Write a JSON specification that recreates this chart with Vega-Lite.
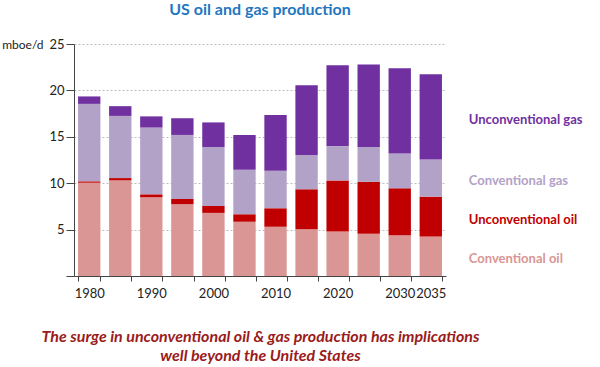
{
  "$schema": "https://vega.github.io/schema/vega-lite/v6.json",
  "autosize": {"type": "none"},
  "padding": {"left": 74, "top": 44, "right": 154, "bottom": 91},
  "width": 372,
  "height": 232,
  "config": {"view": {"stroke": null}, "font": "Lato"},
  "title": {"text": "US oil and gas production", "fontSize": 16, "fontWeight": "bold", "color": "#1f77c0", "anchor": "middle", "offset": 20, "font": "Lato"},
  "data": {"values": [
    {"year": "1980", "fuel": "oil", "type": "Conventional", "series": "Conventional oil", "value": 10.05},
    {"year": "1980", "fuel": "oil", "type": "Unconventional", "series": "Unconventional oil", "value": 0.15},
    {"year": "1980", "fuel": "gas", "type": "Conventional", "series": "Conventional gas", "value": 8.35},
    {"year": "1980", "fuel": "gas", "type": "Unconventional", "series": "Unconventional gas", "value": 0.8},
    {"year": "1985", "fuel": "oil", "type": "Conventional", "series": "Conventional oil", "value": 10.3},
    {"year": "1985", "fuel": "oil", "type": "Unconventional", "series": "Unconventional oil", "value": 0.25},
    {"year": "1985", "fuel": "gas", "type": "Conventional", "series": "Conventional gas", "value": 6.7},
    {"year": "1985", "fuel": "gas", "type": "Unconventional", "series": "Unconventional gas", "value": 1.05},
    {"year": "1990", "fuel": "oil", "type": "Conventional", "series": "Conventional oil", "value": 8.5},
    {"year": "1990", "fuel": "oil", "type": "Unconventional", "series": "Unconventional oil", "value": 0.3},
    {"year": "1990", "fuel": "gas", "type": "Conventional", "series": "Conventional gas", "value": 7.2},
    {"year": "1990", "fuel": "gas", "type": "Unconventional", "series": "Unconventional gas", "value": 1.2},
    {"year": "1995", "fuel": "oil", "type": "Conventional", "series": "Conventional oil", "value": 7.75},
    {"year": "1995", "fuel": "oil", "type": "Unconventional", "series": "Unconventional oil", "value": 0.55},
    {"year": "1995", "fuel": "gas", "type": "Conventional", "series": "Conventional gas", "value": 6.9},
    {"year": "1995", "fuel": "gas", "type": "Unconventional", "series": "Unconventional gas", "value": 1.8},
    {"year": "2000", "fuel": "oil", "type": "Conventional", "series": "Conventional oil", "value": 6.8},
    {"year": "2000", "fuel": "oil", "type": "Unconventional", "series": "Unconventional oil", "value": 0.75},
    {"year": "2000", "fuel": "gas", "type": "Conventional", "series": "Conventional gas", "value": 6.35},
    {"year": "2000", "fuel": "gas", "type": "Unconventional", "series": "Unconventional gas", "value": 2.65},
    {"year": "2005", "fuel": "oil", "type": "Conventional", "series": "Conventional oil", "value": 5.85},
    {"year": "2005", "fuel": "oil", "type": "Unconventional", "series": "Unconventional oil", "value": 0.8},
    {"year": "2005", "fuel": "gas", "type": "Conventional", "series": "Conventional gas", "value": 4.8},
    {"year": "2005", "fuel": "gas", "type": "Unconventional", "series": "Unconventional gas", "value": 3.75},
    {"year": "2010", "fuel": "oil", "type": "Conventional", "series": "Conventional oil", "value": 5.3},
    {"year": "2010", "fuel": "oil", "type": "Unconventional", "series": "Unconventional oil", "value": 2.0},
    {"year": "2010", "fuel": "gas", "type": "Conventional", "series": "Conventional gas", "value": 4.05},
    {"year": "2010", "fuel": "gas", "type": "Unconventional", "series": "Unconventional gas", "value": 6.0},
    {"year": "2015", "fuel": "oil", "type": "Conventional", "series": "Conventional oil", "value": 5.05},
    {"year": "2015", "fuel": "oil", "type": "Unconventional", "series": "Unconventional oil", "value": 4.3},
    {"year": "2015", "fuel": "gas", "type": "Conventional", "series": "Conventional gas", "value": 3.7},
    {"year": "2015", "fuel": "gas", "type": "Unconventional", "series": "Unconventional gas", "value": 7.5},
    {"year": "2020", "fuel": "oil", "type": "Conventional", "series": "Conventional oil", "value": 4.8},
    {"year": "2020", "fuel": "oil", "type": "Unconventional", "series": "Unconventional oil", "value": 5.5},
    {"year": "2020", "fuel": "gas", "type": "Conventional", "series": "Conventional gas", "value": 3.7},
    {"year": "2020", "fuel": "gas", "type": "Unconventional", "series": "Unconventional gas", "value": 8.7},
    {"year": "2025", "fuel": "oil", "type": "Conventional", "series": "Conventional oil", "value": 4.55},
    {"year": "2025", "fuel": "oil", "type": "Unconventional", "series": "Unconventional oil", "value": 5.6},
    {"year": "2025", "fuel": "gas", "type": "Conventional", "series": "Conventional gas", "value": 3.75},
    {"year": "2025", "fuel": "gas", "type": "Unconventional", "series": "Unconventional gas", "value": 8.9},
    {"year": "2030", "fuel": "oil", "type": "Conventional", "series": "Conventional oil", "value": 4.4},
    {"year": "2030", "fuel": "oil", "type": "Unconventional", "series": "Unconventional oil", "value": 5.05},
    {"year": "2030", "fuel": "gas", "type": "Conventional", "series": "Conventional gas", "value": 3.75},
    {"year": "2030", "fuel": "gas", "type": "Unconventional", "series": "Unconventional gas", "value": 9.2},
    {"year": "2035", "fuel": "oil", "type": "Conventional", "series": "Conventional oil", "value": 4.25},
    {"year": "2035", "fuel": "oil", "type": "Unconventional", "series": "Unconventional oil", "value": 4.3},
    {"year": "2035", "fuel": "gas", "type": "Conventional", "series": "Conventional gas", "value": 4.0},
    {"year": "2035", "fuel": "gas", "type": "Unconventional", "series": "Unconventional gas", "value": 9.2}
  ]},
  "transform": [
    {"stack": "value", "groupby": ["year"], "sort": [{"field": "fuel", "order": "descending"}, {"field": "type", "order": "ascending"}], "as": ["v0", "v1"]}
  ],
  "encoding": {
    "x": {
      "field": "year", "type": "nominal", "sort": null,
      "scale": {"paddingInner": 0.28, "paddingOuter": 0.13},
      "axis": {
        "labelAngle": 0,
        "tickBand": "extent",
        "tickSize": 5,
        "tickColor": "#444",
        "domainColor": "#444",
        "labelFontSize": 13,
        "labelColor": "#222",
        "labelPadding": 6,
        "labelExpr": "(datum.label == '1985' || datum.label == '1995' || datum.label == '2005' || datum.label == '2015' || datum.label == '2025') ? '' : datum.label",
        "title": ["The surge in unconventional oil & gas production has implications", "well beyond the United States"],
        "titleFontSize": 16,
        "titleFontStyle": "italic",
        "titleFontWeight": "bold",
        "titleColor": "#9a1b1b",
        "titlePadding": 28,
        "titleLineHeight": 19
      }
    },
    "color": {
      "field": "series", "type": "nominal",
      "scale": {
        "domain": ["Unconventional gas", "Conventional gas", "Unconventional oil", "Conventional oil"],
        "range": ["#7030a0", "#b3a2c7", "#c00000", "#da9694"]
      },
      "legend": null
    }
  },
  "layer": [
    {
      "mark": {"type": "bar"},
      "encoding": {
        "y": {
          "field": "v0", "type": "quantitative",
          "scale": {"domain": [0, 25], "nice": false, "padding": 0, "zero": true},
          "axis": {
            "values": [0, 5, 10, 15, 20, 25],
            "labelExpr": "datum.value == 0 ? '' : datum.label",
            "grid": true,
            "gridDash": [2, 2],
            "gridColor": "#bdbdbd",
            "domainColor": "#444",
            "tickColor": "#444",
            "tickSize": 8,
            "labelFontSize": 13,
            "labelColor": "#222",
            "labelPadding": 2,
            "title": "mboe/d",
            "titleAngle": 0,
            "titleAlign": "right",
            "titleBaseline": "middle",
            "titleX": -31,
            "titleY": 0,
            "titleFontSize": 12,
            "titleFontWeight": "normal",
            "titleColor": "#222"
          }
        },
        "y2": {"field": "v1"}
      }
    },
    {
      "transform": [
        {"filter": "datum.year === '2035'"},
        {"fold": ["v0", "v1"], "as": ["edge", "pos"]}
      ],
      "mark": {"type": "text", "align": "left", "baseline": "middle", "dx": 38, "dy": 3, "fontSize": 13, "fontWeight": "bold", "font": "Lato"},
      "encoding": {
        "y": {"aggregate": "mean", "field": "pos", "type": "quantitative", "stack": null},
        "text": {"field": "series", "type": "nominal"}
      }
    }
  ]
}
